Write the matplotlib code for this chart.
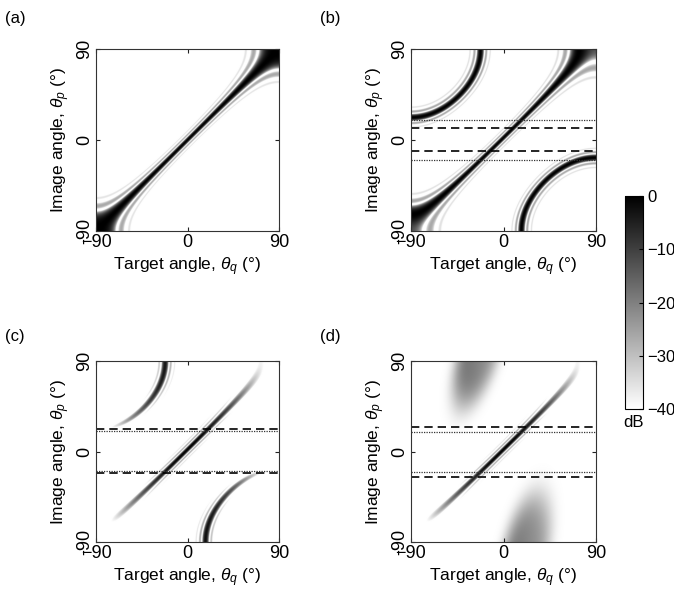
import numpy as np
import matplotlib
matplotlib.use('Agg')
import matplotlib.pyplot as plt

plt.rcParams['font.family'] = ['Liberation Sans', 'DejaVu Sans']
plt.rcParams['mathtext.fontset'] = 'custom'
plt.rcParams['mathtext.rm'] = 'Liberation Sans'
plt.rcParams['mathtext.it'] = 'Liberation Sans:italic'

# values
panel_names = ['(a)', '(b)', '(c)', '(d)']
lobe_period = [None, 1.34, 1.34, None]      # grating lobe spacing in sin(theta)
lobe_offset = [0.0, 0.04, 0.035, 0.035]     # shift of the main lobe in sin(theta)
aperture = 15.7                              # N*d in wavelengths
window_deg = [None, None, 75.0, 75.0]        # target angle where level reaches -40 dB
dashed_deg = [[], [12.3, -11.3], [22.5, -21.5], [24.8, -25.3]]
dotted_deg = [[], [19.9, -19.8], [20.2, -19.2], [19.6, -20.0]]

# broad lobes of panel (d): centre (outside the plot), tip, half width
blob_center = [(-23.0, 100.0), (22.0, -100.0)]
blob_tip = [(-43.0, 34.0), (37.5, -30.0)]
blob_halfwidth = [22.0, 24.0]
blob_peak = [19.0, 19.0]       # dB above the -40 floor

ticks = [-90, 0, 90]
cbar_ticks = [0, -10, -20, -30, -40]

q = np.linspace(-90, 90, 901)
Q, P = np.meshgrid(q, q)
Qr, Pr = np.radians(Q), np.radians(P)


def pattern(period, u0):
    u = np.sin(Pr) - np.sin(Qr) - u0
    if period is None:
        d = np.abs(np.sinc(aperture * u))
    else:
        dd = 1.0 / period
        n = round(aperture / dd)
        num = np.sin(n * np.pi * dd * u)
        den = n * np.sin(np.pi * dd * u)
        with np.errstate(divide='ignore', invalid='ignore'):
            d = np.abs(np.where(np.abs(den) < 1e-9, 1.0, num / den))
    return 40 * np.log10(d + 1e-8)


def blob(i):
    cq, cp = blob_center[i]
    tq, tp = blob_tip[i]
    ln = np.hypot(tq - cq, tp - cp)
    uq, up = (tq - cq) / ln, (tp - cp) / ln
    along = (Q - cq) * uq + (P - cp) * up
    across = (Q - cq) * up - (P - cp) * uq
    r2 = (along / (ln / 1.1)) ** 2 + (across / blob_halfwidth[i]) ** 2
    shade = np.clip(1 - 0.25 * (Q - cq) / blob_halfwidth[i], 0.5, 1.25)
    return -40 + blob_peak[i] * np.exp(-1.3 * r2 ** 2) * shade


fig = plt.figure(figsize=(6.74, 6.03), dpi=100)
boxes = [[96, 49, 183, 182], [411, 49, 185, 182],
         [96, 361, 183, 181], [411, 361, 185, 181]]
label_pos = [(5, 19), (320, 19), (5, 336), (320, 336)]

for k in range(4):
    x0, y0, w, h = boxes[k]
    ax = fig.add_axes([x0 / 674, 1 - (y0 + h) / 603, w / 674, h / 603])
    img = pattern(lobe_period[k], lobe_offset[k])
    if window_deg[k] is not None:
        img = img - 40 * (Q / window_deg[k]) ** 2
    if k == 3:
        img = np.maximum(img, np.maximum(blob(0), blob(1)))
    img = np.clip(img, -40, 0)
    im = ax.imshow(img, extent=[-90, 90, -90, 90], origin='lower', cmap='gray_r',
                   vmin=-40, vmax=0, aspect='auto', interpolation='antialiased')
    for y in dashed_deg[k]:
        ax.axhline(y, color='black', ls=(0, (5, 3)), lw=1.2)
    for y in dotted_deg[k]:
        ax.axhline(y, color='#333333', ls=(0, (1, 1)), lw=0.9)
    ax.set_xlim(-90, 90)
    ax.set_ylim(-90, 90)
    ax.set_xticks(ticks)
    ax.set_yticks(ticks)
    ax.set_yticklabels([str(t) for t in ticks], rotation=90, va='center')
    ax.tick_params(direction='in', top=True, right=True, length=3,
                   labelsize=13, colors='#222222', labelcolor='black', pad=2)
    for sp in ax.spines.values():
        sp.set_color('#333333')
        sp.set_linewidth(0.8)
    ax.set_xlabel(r'Target angle, $\theta_q$ (°)', fontsize=12.5, labelpad=3)
    ax.set_ylabel(r'Image angle, $\theta_p$ (°)', fontsize=12.5, labelpad=3)
    lx, ly = label_pos[k]
    fig.text(lx / 674, 1 - ly / 603, panel_names[k], fontsize=12, va='center', ha='left')

cax = fig.add_axes([625 / 674, 1 - 409 / 603, 18 / 674, 213 / 603])
cb = fig.colorbar(im, cax=cax, ticks=cbar_ticks)
cb.ax.tick_params(direction='in', length=3, labelsize=12, pad=3)
cb.outline.set_linewidth(0.8)
cax.text(0.5, -0.03, 'dB', transform=cax.transAxes, ha='center', va='top', fontsize=12)

fig.savefig('out.png', dpi=100)
